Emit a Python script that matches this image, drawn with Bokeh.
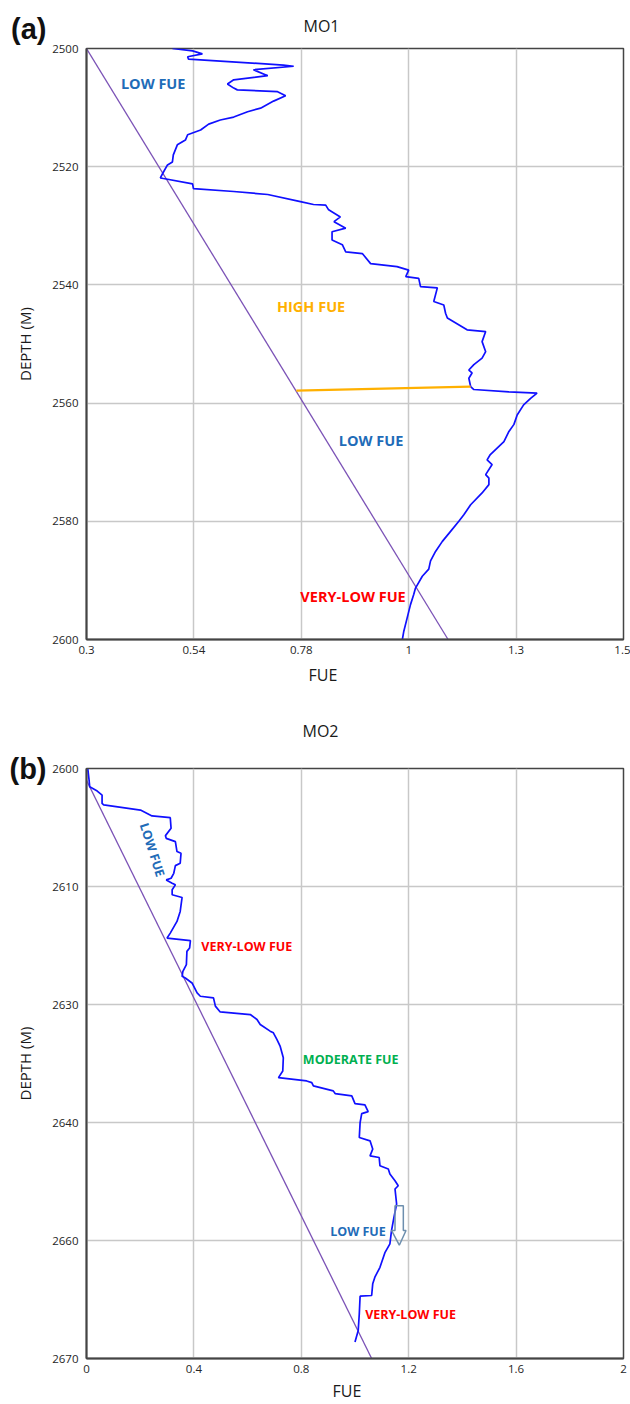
import numpy as np
from bokeh.plotting import figure
from bokeh.models import Range1d, FixedTicker, Label, Title, LinearAxis
from bokeh.layouts import column
from bokeh.embed import file_html
from bokeh.resources import INLINE

# ---------------- Panel (a): MO1 ----------------
A_TITLE = "MO1"
A_XTICKS = [0.3, 0.54, 0.78, 1.0, 1.3, 1.5]
A_XLABELS = ["0.3", "0.54", "0.78", "1", "1.3", "1.5"]
A_YTICKS = [2500, 2520, 2540, 2560, 2580, 2600]

A_FUE = [0.492, 0.537, 0.559, 0.526, 0.528, 0.740, 0.763, 0.673, 0.705, 0.629,
         0.615, 0.629, 0.637, 0.727, 0.745, 0.718, 0.689, 0.660, 0.629, 0.599,
         0.573, 0.555, 0.526, 0.521, 0.503, 0.494, 0.492, 0.481, 0.472, 0.465,
         0.472, 0.537, 0.539, 0.629, 0.705, 0.778, 0.805, 0.830, 0.836, 0.860,
         0.847, 0.871, 0.843, 0.843, 0.864, 0.871, 0.905, 0.922, 0.976, 1.000,
         0.994, 1.028, 1.033, 1.080, 1.070, 1.098, 1.103, 1.108, 1.163, 1.215,
         1.205, 1.215, 1.205, 1.182, 1.168, 1.177, 1.168, 1.173, 1.182, 1.280,
         1.339, 1.327, 1.314, 1.302, 1.294, 1.280, 1.266, 1.247, 1.228, 1.219,
         1.233, 1.215, 1.224, 1.224, 1.205, 1.173, 1.154, 1.140, 1.117, 1.094,
         1.075, 1.061, 1.056, 1.038, 1.019, 1.014, 1.005, 0.997, 0.990, 0.987]
A_DEPTH = [2500.0, 2500.4, 2500.9, 2501.4, 2501.8, 2502.8, 2503.0, 2503.6, 2504.6, 2505.3,
           2506.0, 2506.7, 2507.0, 2507.3, 2508.0, 2508.9, 2510.1, 2510.7, 2511.6, 2512.1,
           2512.8, 2513.8, 2514.6, 2515.5, 2516.3, 2518.0, 2519.2, 2519.7, 2520.9, 2521.9,
           2522.0, 2522.9, 2523.7, 2524.2, 2524.7, 2525.9, 2526.4, 2526.5, 2527.3, 2528.5,
           2529.3, 2530.4, 2531.0, 2532.4, 2533.2, 2534.4, 2534.7, 2536.4, 2536.9, 2537.5,
           2538.6, 2538.9, 2540.3, 2540.5, 2542.8, 2543.4, 2544.8, 2545.6, 2547.6, 2547.9,
           2549.6, 2551.3, 2552.4, 2553.5, 2554.4, 2554.9, 2555.8, 2557.2, 2557.7, 2558.1,
           2558.3, 2559.2, 2560.3, 2562.0, 2563.6, 2564.8, 2566.5, 2567.6, 2568.7, 2569.6,
           2570.4, 2572.1, 2572.7, 2573.8, 2575.2, 2577.2, 2578.9, 2580.0, 2581.7, 2583.4,
           2585.1, 2586.7, 2588.1, 2589.3, 2591.3, 2592.4, 2594.1, 2596.3, 2598.6, 2600.0]
A_TREND_FUE = [0.3, 1.11]
A_TREND_DEPTH = [2500, 2600]
A_HIGH_FUE = [0.769, 1.173]
A_HIGH_DEPTH = [2557.9, 2557.2]

A_NOTES = ["LOW FUE", "HIGH FUE", "LOW FUE", "VERY-LOW FUE"]
A_NOTE_FUE = [0.449, 0.800, 0.923, 0.886]
A_NOTE_DEPTH = [2506.0, 2543.7, 2566.3, 2592.8]
A_NOTE_COLORS = ["#1f6cb8", "#ffb000", "#1f6cb8", "#ff0000"]

# ---------------- Panel (b): MO2 ----------------
B_TITLE = "MO2"
B_XTICKS = [0, 0.4, 0.8, 1.2, 1.6, 2]
B_XLABELS = ["0", "0.4", "0.8", "1.2", "1.6", "2"]
B_YTICKS = [2600, 2610, 2630, 2640, 2660, 2670]
B_YLABELS = ["2600", "2610", "2630", "2640", "2660", "2670"]

B_FUE = [0.005, 0.009, 0.012, 0.040, 0.058, 0.058, 0.064, 0.201, 0.244, 0.312,
         0.315, 0.294, 0.297, 0.331, 0.337, 0.352, 0.349, 0.331, 0.325, 0.315,
         0.297, 0.319, 0.331, 0.319, 0.319, 0.356, 0.349, 0.337, 0.312, 0.300,
         0.387, 0.384, 0.374, 0.372, 0.359, 0.356, 0.368, 0.393, 0.412, 0.424,
         0.473, 0.480, 0.498, 0.610, 0.635, 0.647, 0.684, 0.696, 0.709, 0.721,
         0.733, 0.731, 0.715, 0.820, 0.839, 0.845, 0.919, 0.926, 0.988, 1.000,
         1.037, 1.049, 1.025, 1.019, 1.016, 1.056, 1.066, 1.056, 1.090, 1.093,
         1.124, 1.130, 1.149, 1.161, 1.149, 1.155, 1.145, 1.136, 1.130, 1.112,
         1.093, 1.074, 1.066, 1.062, 1.019, 1.016, 1.012, 1.000]
B_DEPTH = [2600.05, 2600.85, 2601.55, 2601.91, 2602.25, 2602.96, 2603.09, 2603.52, 2604.02, 2604.17,
           2605.07, 2605.69, 2605.92, 2606.20, 2607.04, 2607.19, 2608.03, 2608.23, 2608.88, 2609.30,
           2609.44, 2609.72, 2609.86, 2610.56, 2611.40, 2611.86, 2614.23, 2615.92, 2617.90, 2618.74,
           2619.18, 2620.43, 2620.99, 2623.24, 2624.37, 2625.22, 2625.50, 2626.35, 2628.04, 2628.60,
           2628.88, 2630.14, 2630.63, 2630.85, 2631.27, 2631.69, 2632.26, 2632.40, 2632.96, 2633.52,
           2634.51, 2635.63, 2636.20, 2636.48, 2636.62, 2636.90, 2637.32, 2637.55, 2637.75, 2638.40,
           2638.51, 2639.08, 2639.25, 2640.02, 2642.55, 2643.11, 2644.51, 2645.65, 2645.93, 2647.34,
           2647.89, 2648.74, 2649.87, 2650.72, 2651.27, 2653.81, 2656.07, 2658.32, 2660.29, 2661.00,
           2662.27, 2663.11, 2663.67, 2664.66, 2664.72, 2666.21, 2667.62, 2668.61]
B_TREND_FUE = [0.0, 1.062]
B_TREND_DEPTH = [2601.0, 2670.0]

B_NOTES = ["LOW FUE", "VERY-LOW FUE", "MODERATE  FUE", "LOW FUE", "VERY-LOW FUE"]
B_NOTE_FUE = [0.245, 0.597, 0.990, 1.011, 1.207]
B_NOTE_DEPTH = [2606.9, 2620.1, 2634.7, 2658.4, 2666.3]
B_NOTE_COLORS = ["#1f6cb8", "#ff0000", "#00b050", "#1f6cb8", "#ff0000"]
B_NOTE_ANGLES = [-1.26, 0, 0, 0, 0]

B_ARROW_FUE = [1.149, 1.180, 1.180, 1.190, 1.165, 1.136, 1.149]
B_ARROW_DEPTH = [2654.1, 2654.1, 2658.3, 2658.3, 2660.4, 2658.3, 2658.3]

FONT = "Open Sans"
BLUE = "#1010ff"
PURPLE = "#7b52b6"
DARK = "#1a1a1a"


def pos_a(v):
    return np.interp(v, A_XTICKS, np.arange(len(A_XTICKS)))


def pos_b(v):
    return np.interp(v, B_YTICKS, np.arange(len(B_YTICKS)))


def style(p):
    p.grid.grid_line_color = "#c8c8c8"
    p.grid.grid_line_width = 1.5
    p.outline_line_color = "#444444"
    p.outline_line_width = 1.5
    p.background_fill_color = "white"
    p.border_fill_color = "white"
    for ax in (p.xaxis[0], p.yaxis[0]):
        ax.axis_line_color = "#444444"
        ax.axis_line_width = 2
        ax.major_tick_line_color = None
        ax.minor_tick_line_color = None
        ax.major_tick_out = 0
        ax.major_tick_in = 0
        ax.major_label_text_font = FONT
        ax.major_label_text_font_size = "11.5px"
        ax.major_label_text_color = "#262626"
    p.yaxis[0].major_label_standoff = 8
    p.xaxis[0].major_label_standoff = 6
    # vertical axis title
    p.yaxis[0].axis_label = "DEPTH (M)"
    p.yaxis[0].axis_label_text_font = FONT
    p.yaxis[0].axis_label_text_font_size = "15px"
    p.yaxis[0].axis_label_text_font_style = "normal"
    p.yaxis[0].axis_label_text_color = DARK
    p.yaxis[0].axis_label_standoff = 14
    # title above
    p.title.align = "left"
    p.title.text_font = FONT
    p.title.text_font_size = "16px"
    p.title.text_font_style = "normal"
    p.title.text_color = DARK


def panel_tag(p, tick, text, standoff):
    ax = LinearAxis(ticker=FixedTicker(ticks=[tick]), major_label_overrides={tick: text})
    ax.axis_line_color = None
    ax.major_tick_line_color = None
    ax.minor_tick_line_color = None
    ax.major_tick_out = 0
    ax.major_tick_in = 0
    ax.major_label_standoff = standoff
    ax.major_label_text_font = "Liberation Sans"
    ax.major_label_text_font_style = "bold"
    ax.major_label_text_font_size = "29px"
    ax.major_label_text_color = "#111111"
    p.add_layout(ax, "left")


def xtitle(p, offset, standoff):
    p.add_layout(Title(text="FUE", align="left", offset=offset, standoff=standoff,
                       text_font=FONT, text_font_size="16px", text_font_style="normal",
                       text_color=DARK), "below")


def lab(p, x, y, text, size, color, angle=0.0):
    p.add_layout(Label(x=x, y=y, text=text, text_font=FONT, text_font_size=size,
                       text_font_style="bold", text_color=color,
                       text_align="center", text_baseline="middle", angle=angle))


# ----- figure (a) -----
p1 = figure(width=630, height=690, output_backend="svg", toolbar_location=None,
            title=A_TITLE, x_range=Range1d(0, 5), y_range=Range1d(2600, 2500),
            min_border_left=86, min_border_right=7, min_border_top=47, min_border_bottom=51)
style(p1)
p1.title.offset = 217
p1.title.standoff = 24
p1.xaxis[0].ticker = FixedTicker(ticks=list(range(6)))
p1.xaxis[0].major_label_overrides = {i: s for i, s in enumerate(A_XLABELS)}
p1.yaxis[0].ticker = FixedTicker(ticks=A_YTICKS)
panel_tag(p1, 2500, "(a)\n ", -34)
xtitle(p1, 222, 10)

p1.line(pos_a(A_TREND_FUE), A_TREND_DEPTH, line_color=PURPLE, line_width=1.3)
p1.line(pos_a(A_FUE), A_DEPTH, line_color=BLUE, line_width=1.7)
p1.line(pos_a(A_HIGH_FUE), A_HIGH_DEPTH, line_color="#ffb000", line_width=2.2)
for t, fx, d, c in zip(A_NOTES, A_NOTE_FUE, A_NOTE_DEPTH, A_NOTE_COLORS):
    lab(p1, float(pos_a(fx)), d, t, "14.5px", c)

# ----- figure (b) -----
p2 = figure(width=630, height=714, output_backend="svg", toolbar_location=None,
            title=B_TITLE, x_range=Range1d(0, 2), y_range=Range1d(5, 0),
            min_border_left=86, min_border_right=6, min_border_top=77, min_border_bottom=46)
style(p2)
p2.title.offset = 216
p2.title.standoff = 54
p2.xaxis[0].ticker = FixedTicker(ticks=B_XTICKS)
p2.xaxis[0].major_label_overrides = {t: s for t, s in zip(B_XTICKS, B_XLABELS)}
p2.yaxis[0].ticker = FixedTicker(ticks=list(range(6)))
p2.yaxis[0].major_label_overrides = {i: s for i, s in enumerate(B_YLABELS)}
panel_tag(p2, 0, "(b)", -34)
xtitle(p2, 246, 4)

p2.line(B_TREND_FUE, pos_b(B_TREND_DEPTH), line_color=PURPLE, line_width=1.3)
p2.line(B_FUE, pos_b(B_DEPTH), line_color=BLUE, line_width=1.7)
p2.patch(B_ARROW_FUE, pos_b(B_ARROW_DEPTH), fill_color=None, line_color="#6d8fae", line_width=1.5)
for t, fx, d, c, a in zip(B_NOTES, B_NOTE_FUE, B_NOTE_DEPTH, B_NOTE_COLORS, B_NOTE_ANGLES):
    lab(p2, fx, float(pos_b(d)), t, "12.5px", c, angle=a)

layout = column(p1, p2, spacing=0)
open("out.html", "w").write(file_html(layout, INLINE))
